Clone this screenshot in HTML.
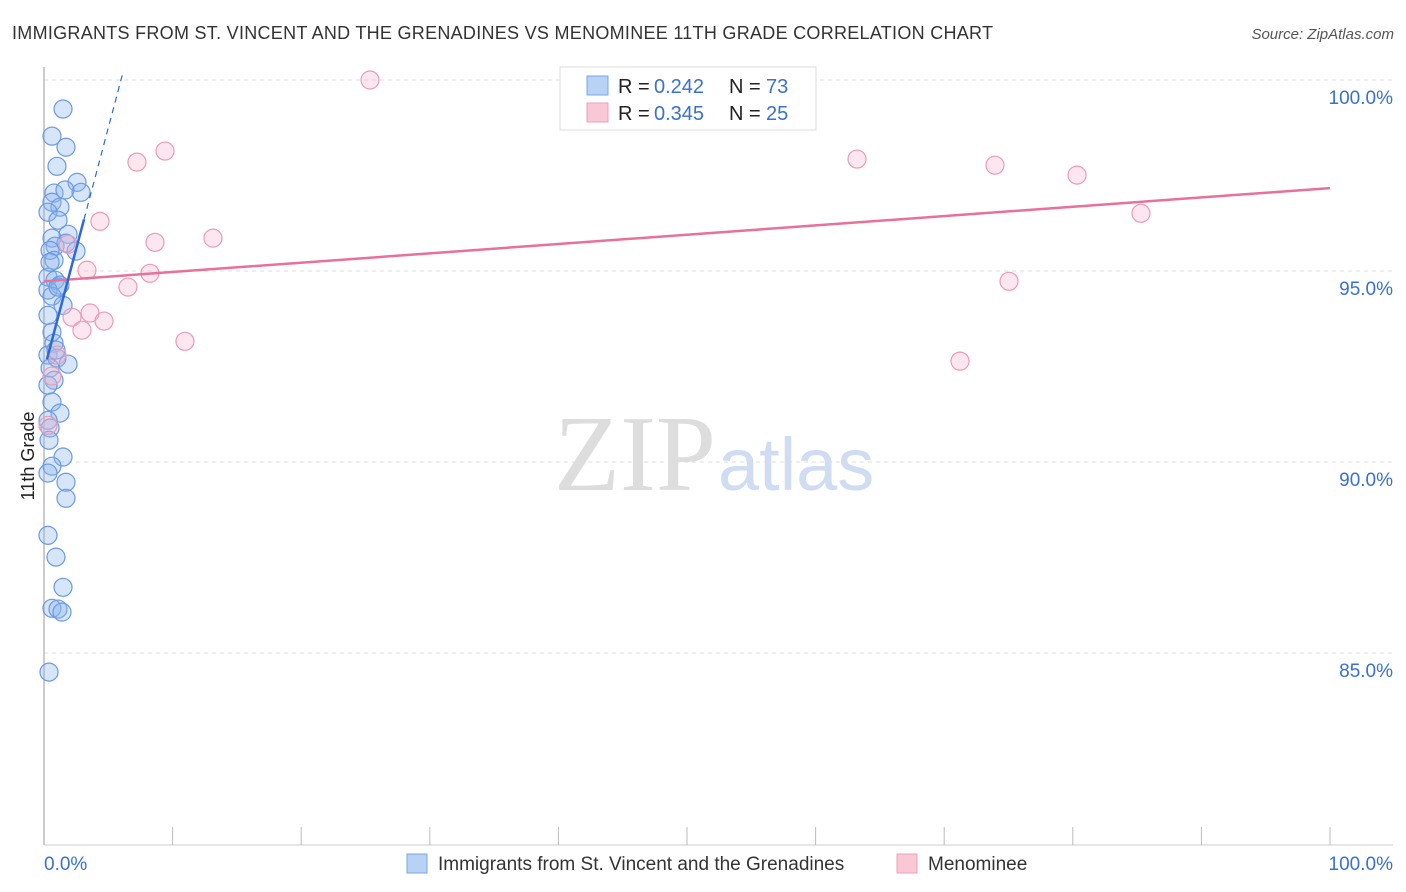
<!DOCTYPE html>
<html><head><meta charset="utf-8"><style>
body{margin:0;background:#fff;font-family:"Liberation Sans",sans-serif;}
#wrap{position:relative;width:1406px;height:892px;overflow:hidden;}
</style></head><body>
<div id="wrap">
<svg id="svg" width="1406" height="892" xmlns="http://www.w3.org/2000/svg">
<text x="12" y="39" font-size="18" fill="#333" textLength="981">IMMIGRANTS FROM ST. VINCENT AND THE GRENADINES VS MENOMINEE 11TH GRADE CORRELATION CHART</text>
<text x="1394" y="39" font-size="15" fill="#555" font-style="italic" text-anchor="end">Source: ZipAtlas.com</text>
<text x="716" y="490" font-size="108" fill="#ddd" text-anchor="end" font-family="Liberation Serif,serif">ZIP</text>
<text x="718" y="490" font-size="74" fill="#cfdcf2">atlas</text>
<text transform="translate(34,456) rotate(-90)" font-size="18" fill="#222" text-anchor="middle">11th Grade</text>
<g id="grid"></g><g id="axes"></g><g id="pts"></g><g id="lines"></g>
<g>
<rect x="560" y="67" width="256" height="63" fill="#fff" stroke="#ddd"/>
<rect x="587" y="76" width="21" height="19" fill="#b8d2f5" stroke="#7aa6e6"/>
<rect x="587" y="103" width="21" height="19" fill="#f9c8d6" stroke="#eea0b8"/>
<text x="618" y="93" font-size="20" fill="#222">R = </text><text x="654" y="93" font-size="20" fill="#3a70d0">0.242</text>
<text x="729" y="93" font-size="20" fill="#222">N = </text><text x="766" y="93" font-size="20" fill="#3a70d0">73</text>
<text x="618" y="120" font-size="20" fill="#222">R = </text><text x="654" y="120" font-size="20" fill="#3a70d0">0.345</text>
<text x="729" y="120" font-size="20" fill="#222">N = </text><text x="766" y="120" font-size="20" fill="#3a70d0">25</text>
</g>
<g>
<rect x="407" y="854" width="20" height="19" fill="#b8d2f5" stroke="#7aa6e6"/>
<text x="438" y="870" font-size="19" fill="#333">Immigrants from St. Vincent and the Grenadines</text>
<rect x="897" y="854" width="20" height="19" fill="#f9c8d6" stroke="#eea0b8"/>
<text x="928" y="870" font-size="19" fill="#333">Menominee</text>
</g>
</svg>
</div>
<script>
const blueX=[1.48,0.62,1.71,1.01,2.57,0.78,1.63,2.88,0.62,1.24,0.31,1.09,1.87,0.62,1.71,0.86,2.49,0.47,0.78,0.31,0.86,1.24,0.31,0.62,1.48,0.31,0.62,0.78,0.31,1.01,1.87,0.47,0.78,0.31,0.62,1.24,0.31,0.47,1.48,0.62,0.31,1.71,1.71,0.31,0.93,1.48,0.62,1.09,1.40,0.39,1.09,0.47,0.93,0.39];
const blueY=[99.24,98.53,98.24,97.74,97.32,97.04,97.12,97.06,96.80,96.67,96.54,96.33,95.96,95.86,95.73,95.65,95.52,95.54,95.28,94.84,94.76,94.63,94.50,94.34,94.10,93.84,93.40,93.11,92.80,92.72,92.56,92.46,92.14,92.01,91.57,91.28,91.09,90.89,90.13,89.89,89.71,89.47,89.05,88.08,87.51,86.72,86.17,86.15,86.07,84.50,94.58,95.23,92.93,90.57];
const pinkX=[25.35,7.23,9.41,4.35,8.63,13.14,3.34,8.24,6.53,2.18,3.58,4.67,2.95,10.96,1.87,1.01,0.62,0.31,63.22,73.95,80.33,85.30,75.04,71.23];
const pinkY=[100.00,97.85,98.14,96.30,95.75,95.86,95.02,94.94,94.58,93.79,93.90,93.69,93.45,93.16,95.70,92.80,92.25,90.96,97.93,97.77,97.51,96.51,94.73,92.64];
const pinkTrend=[94.73,97.17];
const blueTrend=[92.40,1.27];
const yTicks=[100,95,90,85];
const xTickLabels=["0.0%","100.0%"];
const NS="http://www.w3.org/2000/svg";
const X=v=>44+v*12.86, Y=v=>80+(100-v)*38.2;
function mk(p,t,a){const e=document.createElementNS(NS,t);for(const k in a)e.setAttribute(k,a[k]);document.getElementById(p).appendChild(e);return e;}
yTicks.forEach(t=>{
 const l=mk('grid','line',{x1:44,x2:1393,y1:Y(t),y2:Y(t),stroke:'#ddd','stroke-dasharray':'4,4'});
 
 
 const tx=mk('grid','text',{x:1393,y:Y(t)+24,'font-size':19,fill:'#3a70d0','text-anchor':'end'});
 tx.textContent=t.toFixed(1)+'%';
 
 
});
mk('axes','line',{x1:44,x2:44,y1:67,y2:845,stroke:'#bbb','stroke-width':1.5});
mk('axes','line',{x1:44,x2:1393,y1:845,y2:845,stroke:'#ccc'});
for(let i=0;i<=10;i++){const t=mk('axes','line',{x1:X(i*10),x2:X(i*10),y1:827,y2:845,stroke:'#bbb'});
 
 }
[[0,'start',44],[1,'end',1393]].forEach(([i,a,x])=>{const t=mk('axes','text',{x:x,y:870,'font-size':19,fill:'#3a70d0','text-anchor':a});t.textContent=xTickLabels[i];
 
 });
blueX.forEach((v,i)=>{const c=mk('pts','circle',{cx:X(v),cy:Y(blueY[i]),r:9,fill:'rgba(140,180,235,0.35)',stroke:'#6a9ae3','stroke-width':1.2});
 
 });
pinkX.forEach((v,i)=>{const c=mk('pts','circle',{cx:X(v),cy:Y(pinkY[i]),r:9,fill:'rgba(248,185,205,0.35)',stroke:'#eb9bb4','stroke-width':1.2});
 
 });
const pl=mk('lines','line',{x1:X(0),y1:Y(pinkTrend[0]),x2:X(100),y2:Y(pinkTrend[1]),stroke:'#e8709a','stroke-width':2.5});


const bf=x=>blueTrend[0]+blueTrend[1]*x;
const bl=mk('lines','line',{x1:X(0.23),y1:Y(bf(0.23)),x2:X(3.11),y2:Y(bf(3.11)),stroke:'#2d6ad6','stroke-width':2.5});


const bd=mk('lines','line',{x1:X(3.11),y1:Y(bf(3.11)),x2:X(6.09),y2:Y(bf(6.09)),stroke:'#2d6ad6','stroke-width':1.2,'stroke-dasharray':'6,5'});


</script>
</body></html>
